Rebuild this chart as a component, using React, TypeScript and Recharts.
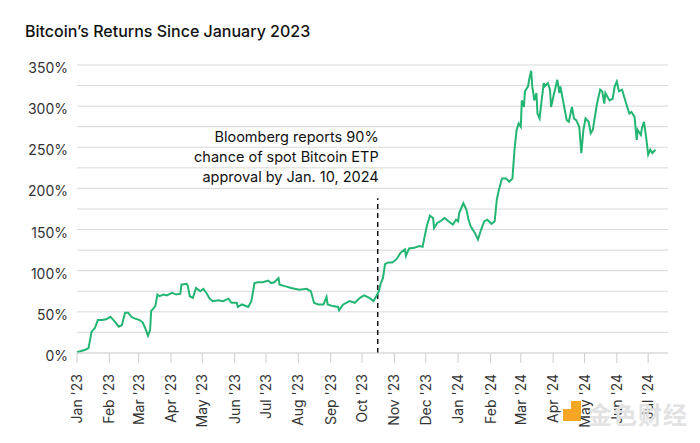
import React from 'react';
import { LineChart, Line, XAxis, YAxis, CartesianGrid, ReferenceLine } from 'recharts';

// days since Jan 1 2023
const days = [
  0, 8, 11, 14, 17, 20, 24, 28, 32, 35, 40, 43, 46, 49, 52, 55, 60, 63, 66, 68, 70, 71, 75, 77, 79, 83, 86, 91, 95, 99,
  100, 105, 106, 108, 111, 114, 118, 121, 124, 127, 130, 135, 140, 145, 148, 153, 154, 158, 164, 167, 170, 173, 178,
  183, 186, 189, 193, 194, 200, 205, 213, 220, 224, 227, 231, 236, 239, 240, 245, 250, 251, 255, 261, 266, 271, 275,
  280, 284, 287, 289, 291, 293, 295, 298, 302, 306, 310, 314, 315, 318, 323, 328, 331, 333, 335, 338, 341, 342, 345,
  349, 352, 357, 360, 363, 365, 366, 370, 373, 375, 377, 381, 384, 387, 390, 393, 397, 400, 402, 404, 407, 411, 414,
  417, 419, 421, 423, 425, 426, 428, 429, 432, 433, 435, 436, 438, 440, 441, 443, 445, 447, 448, 451, 453, 454, 457,
  460, 462, 463, 466, 469, 471, 474, 476, 478, 481, 483, 485, 487, 490, 492, 494, 497, 498, 501, 503, 505, 506, 510,
  513, 515, 517, 519, 522, 526, 529, 531, 534, 536, 537, 540, 541, 543, 545, 547, 549, 551, 554,
];

// return since Jan 2023, in percent
const returns = [
  1, 4, 6, 26, 30, 40, 40, 41, 44, 40, 32, 34, 49, 49, 44, 42, 40, 37, 28, 21, 28, 51, 57, 71, 69, 71, 70, 73, 71, 72,
  83, 84, 82, 69, 67, 79, 75, 78, 73, 66, 63, 64, 63, 66, 61, 61, 56, 59, 56, 63, 85, 86, 86,
  88, 85, 86, 91, 83, 81, 79, 77, 78, 75, 61, 59, 59, 68, 59, 57, 56, 52, 59, 63, 61, 67, 70,
  67, 63, 70, 75, 85, 91, 108, 110, 110, 114, 122, 126, 118, 127, 128, 130, 129, 142, 154, 167, 164, 152, 158,
  161, 164, 159, 156, 162, 160, 170, 182, 174, 162, 154, 146, 138, 150, 160, 162, 157, 160, 186, 198, 212, 212, 208,
  212, 247, 271, 279, 275, 307, 299, 318, 324, 332, 343, 324, 307, 316, 291, 285, 307, 328, 324, 328, 320, 299, 316,
  332, 316, 324, 303, 283, 281, 299, 285, 283, 275, 243, 271, 285, 281, 267, 271, 295, 303, 320, 318, 303, 316, 307,
  309, 324, 330, 318, 320, 303, 291, 293, 287, 259, 271, 265, 273, 281, 263, 241, 247, 243, 247,
];

const monthTicks = [0, 31, 59, 90, 120, 151, 181, 212, 243, 273, 304, 334, 365, 396, 425, 456, 486, 517, 547];
const monthLabels = [
  "Jan '23", "Feb '23", "Mar '23", "Apr '23", "May '23", "Jun '23", "Jul '23", "Aug '23", "Sep '23", "Oct '23",
  "Nov '23", "Dec '23", "Jan '24", "Feb '24", "Mar '24", "Apr '24", "May '24", "Jun '24", "Jul '24",
];
const yTicks = [0, 25, 50, 75, 100, 125, 150, 175, 200, 225, 250, 275, 300, 325, 350];

const etpDay = 288;
const etpTop = 188;
const noteLines = ['Bloomberg reports 90%', 'chance of spot Bitcoin ETP', 'approval by Jan. 10, 2024'];

const data = days.map((d, i) => ({ day: d, ret: returns[i] }));

const FONT = 'Inter, "Liberation Sans", sans-serif';

const XTick = (props: any) => {
  const { x, y, payload } = props;
  const idx = monthTicks.indexOf(payload.value);
  return (
    <text
      transform={`translate(${x},${y + 9}) rotate(-90)`}
      textAnchor="end"
      dy="0.36em"
      fontSize={14}
      fill="#333"
      fontFamily={FONT}
    >
      {monthLabels[idx]}
    </text>
  );
};

const YTick = (props: any) => {
  const { x, y, payload } = props;
  if (payload.value % 50 !== 0) return <g />;
  return (
    <text x={x} y={y + 3} dy="0.36em" textAnchor="end" fontSize={14} fill="#333" fontFamily={FONT}>
      {payload.value}%
    </text>
  );
};

const NoteLabel = (props: any) => {
  const vb = props.viewBox || {};
  const x = vb.x + 1;
  const y = vb.y;
  return (
    <g>
      {noteLines.map((t, i) => (
        <text key={t} x={x} y={y - 56 + i * 20} textAnchor="end" fontSize={14.5} fill="#111" fontFamily={FONT}>
          {t}
        </text>
      ))}
    </g>
  );
};

export default function App() {
  return (
    <div style={{ position: 'absolute', left: 0, top: 0, width: 700, height: 443, background: '#fff', fontFamily: FONT }}>
      <div
        style={{
          position: 'absolute',
          left: 25,
          top: 22,
          fontSize: 16,
          lineHeight: '18px',
          fontWeight: 500,
          color: '#111',
        }}
      >
        Bitcoin’s Returns Since January 2023
      </div>
      <LineChart width={700} height={443} data={data} margin={{ top: 65, right: 32, bottom: 0, left: 0 }}>
        <CartesianGrid vertical={false} stroke="#d9d9d9" />
        <XAxis
          type="number"
          dataKey="day"
          domain={[0, 566]}
          ticks={monthTicks}
          interval={0}
          height={90}
          tickSize={10}
          tickLine={{ stroke: '#ccc' }}
          axisLine={{ stroke: '#d9d9d9' }}
          tick={<XTick />}
        />
        <YAxis
          type="number"
          domain={[0, 350]}
          ticks={yTicks}
          interval={0}
          width={77}
          axisLine={false}
          tickLine={false}
          tickSize={0}
          tickMargin={9}
          tick={<YTick />}
        />
        <ReferenceLine
          segment={[
            { x: etpDay, y: 0 },
            { x: etpDay, y: etpTop },
          ]}
          stroke="#111"
          strokeWidth={1.5}
          strokeDasharray="5 4"
          label={(p: any) => <NoteLabel {...p} />}
        />
        <Line
          type="linear"
          dataKey="ret"
          stroke="#22b573"
          strokeWidth={2}
          dot={false}
          isAnimationActive={false}
        />
      </LineChart>
      {/* watermark */}
      <div style={{ position: 'absolute', left: 563, top: 401, width: 18, height: 20 }}>
        <div style={{ position: 'absolute', left: 0, top: 8, width: 18, height: 12, background: '#f5a623' }} />
        <div style={{ position: 'absolute', left: 8, top: 0, width: 10, height: 8, background: '#f5a623' }} />
      </div>
      <div
        style={{
          position: 'absolute',
          left: 588,
          top: 396,
          fontSize: 24,
          fontWeight: 700,
          color: '#e2e2e2',
          fontFamily: '"Noto Sans CJK SC", sans-serif',
          letterSpacing: 1,
        }}
      >
        金色财经
      </div>
    </div>
  );
}
